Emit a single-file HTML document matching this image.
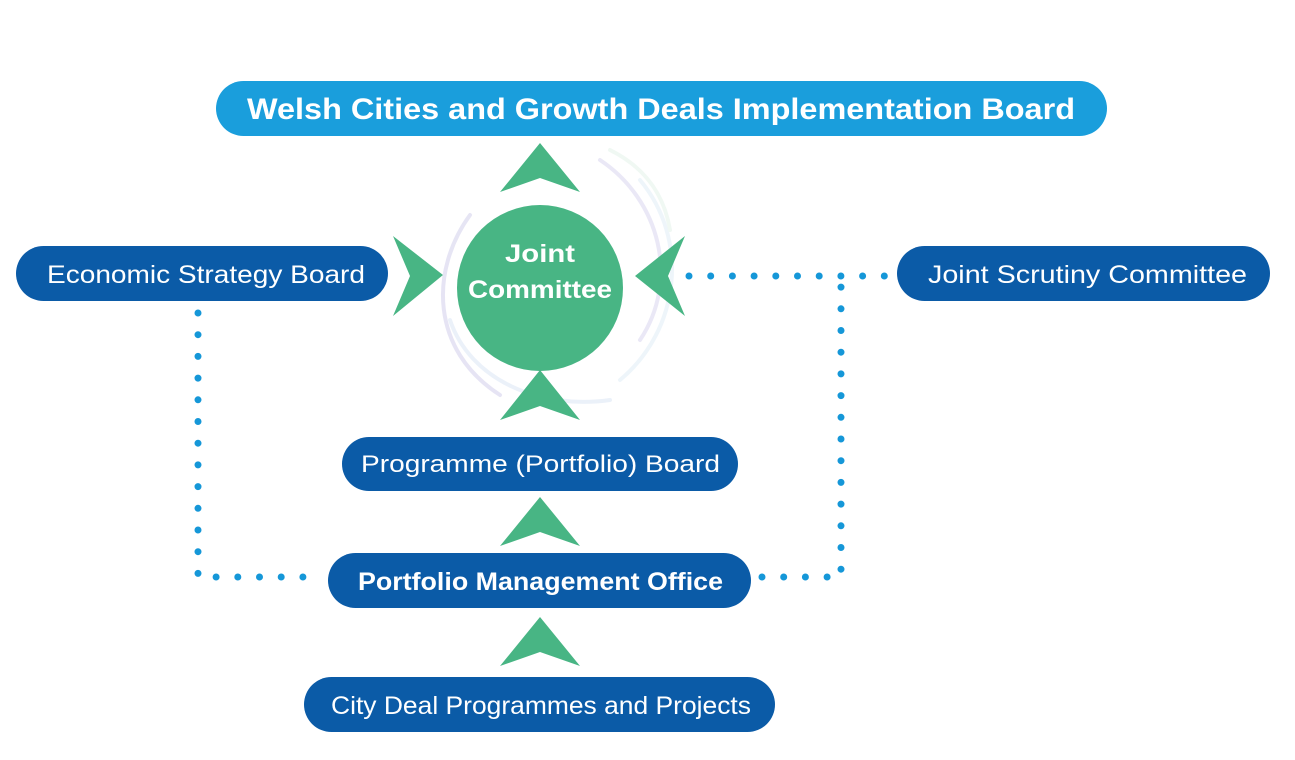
<!DOCTYPE html>
<html><head><style>
html,body{margin:0;padding:0;background:#fff;}
svg{display:block;}
text{font-family:"Liberation Sans",sans-serif;fill:#fff;}
</style></head><body>
<svg width="1295" height="760" viewBox="0 0 1295 760">
<g fill="none" stroke="#1597d8" stroke-width="7" stroke-linecap="round" stroke-dasharray="0 21.7">
<path d="M198 313 V577 H320"/>
<path d="M762 577 H841 V276"/>
<path d="M689 276 H886"/>
</g>
<g fill="none" stroke-linecap="round" stroke-width="4" opacity="0.35">
<path d="M470 215 C430 270 430 350 500 395" stroke="#b8b4e0"/>
<path d="M600 160 C660 200 680 280 640 340" stroke="#c5c0e8"/>
<path d="M640 180 C690 240 680 330 620 380" stroke="#cfe3f3"/>
<path d="M450 320 C470 380 540 410 610 400" stroke="#c8d8f0"/>
<path d="M610 150 C650 170 665 200 670 230" stroke="#d5ecdf"/>
</g>
<rect x="216" y="81" width="891" height="55" rx="27.5" fill="#1a9edc"/>
<text x="247" y="119" font-size="30" font-weight="bold" textLength="828" lengthAdjust="spacingAndGlyphs">Welsh Cities and Growth Deals Implementation Board</text>
<rect x="16" y="246" width="372" height="55" rx="27.5" fill="#0b5ba7"/>
<text x="47" y="283" font-size="25" textLength="318" lengthAdjust="spacingAndGlyphs">Economic Strategy Board</text>
<rect x="897" y="246" width="373" height="55" rx="27.5" fill="#0b5ba7"/>
<text x="928" y="283" font-size="25" textLength="319" lengthAdjust="spacingAndGlyphs">Joint Scrutiny Committee</text>
<circle cx="540" cy="288" r="83" fill="#48b584"/>
<text x="505" y="262" font-size="25" font-weight="bold" textLength="70" lengthAdjust="spacingAndGlyphs">Joint</text>
<text x="468" y="298" font-size="25" font-weight="bold" textLength="144" lengthAdjust="spacingAndGlyphs">Committee</text>
<g fill="#48b584">
<polygon points="540,143 580,192 540,178 500,192"/>
<polygon points="443,275 393,236 410,276 393,316"/>
<polygon points="635,276 685,236 668,276 685,316"/>
<polygon points="540,370 580,420 540,406 500,420"/>
<polygon points="540,497 580,546 540,532 500,546"/>
<polygon points="540,617 580,666 540,652 500,666"/>
</g>
<rect x="342" y="437" width="396" height="54" rx="27" fill="#0b5ba7"/>
<text x="361" y="472" font-size="24" textLength="359" lengthAdjust="spacingAndGlyphs">Programme (Portfolio) Board</text>
<rect x="328" y="553" width="423" height="55" rx="27.5" fill="#0b5ba7"/>
<text x="358" y="590" font-size="25" font-weight="bold" textLength="365" lengthAdjust="spacingAndGlyphs">Portfolio Management Office</text>
<rect x="304" y="677" width="471" height="55" rx="27.5" fill="#0b5ba7"/>
<text x="331" y="714" font-size="25" textLength="420" lengthAdjust="spacingAndGlyphs">City Deal Programmes and Projects</text>
</svg>
</body></html>
